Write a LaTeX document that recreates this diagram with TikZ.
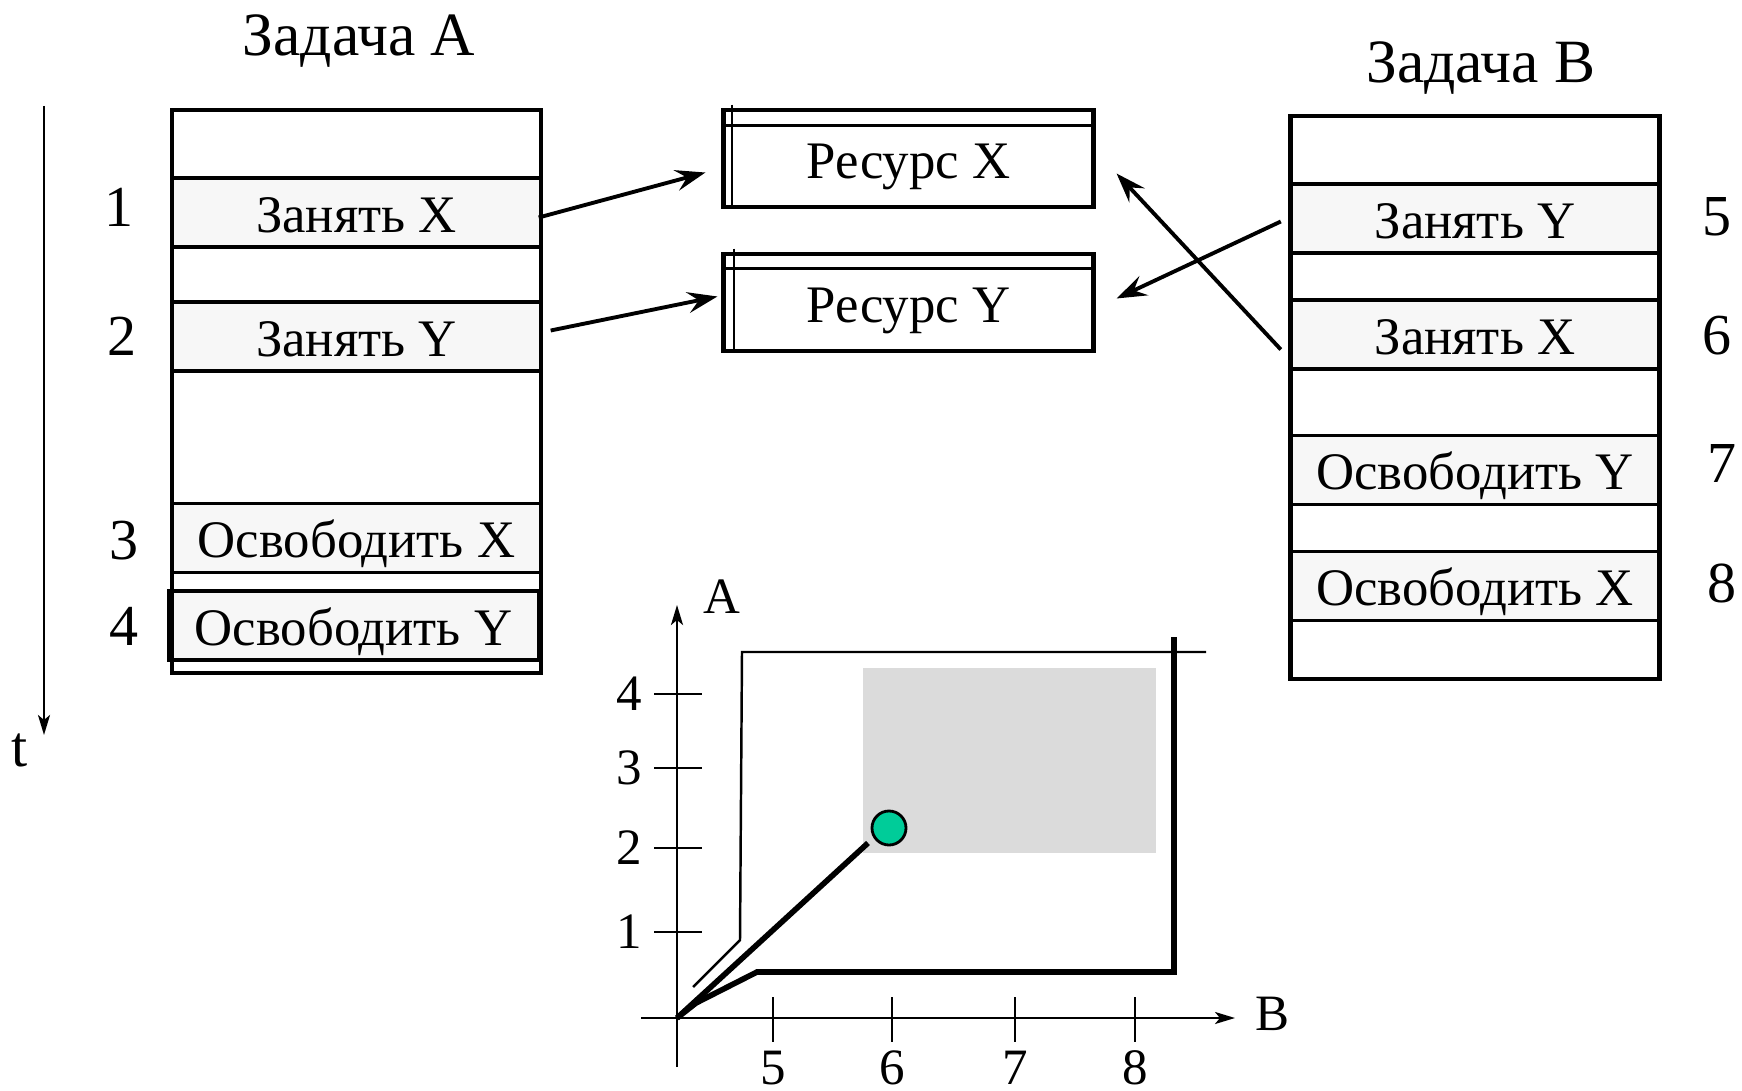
\documentclass[tikz,border=0pt]{standalone}
\usepackage{fontspec}
\setmainfont{Liberation Serif}
\usetikzlibrary{arrows.meta}
\definecolor{dotgreen}{HTML}{00CC99}

\begin{document}
\begin{tikzpicture}[x=0.01cm, y=-0.01cm,
  actbox/.style={draw, line width=0.9pt, fill=black!3, minimum width=3.69cm,
    minimum height=0.69cm, inner sep=0pt, text height=0.48cm, text depth=0.09cm,
    font=\fontsize{15}{18}\selectfont},
  taskbox/.style={draw, line width=1.3pt, minimum width=3.69cm, minimum height=5.63cm},
  resbox/.style={draw, line width=1.4pt, minimum width=3.69cm, minimum height=0.97cm,
    inner sep=0pt, text height=0.48cm, text depth=0.09cm, font=\fontsize{15}{18}\selectfont},
  head/.style={anchor=base, font=\fontsize{17.5}{21}\selectfont},
  num/.style={font=\fontsize{16.5}{20}\selectfont},
  lbl/.style={font=\fontsize{14.5}{17}\selectfont},
  link/.style={-{Stealth[length=0.3cm, width=0.21cm, inset=0.11cm]}, line width=1.1pt},
  axis/.style={-{Stealth[length=0.2cm, width=0.12cm, inset=0.05cm]}, line width=0.7pt}]
\useasboundingbox (0,0) rectangle (1742,1091);

% time axis
\coordinate (ttop) at (44,106);
\coordinate (tbot) at (44,735);
\draw[axis] (ttop) -- (tbot);
\node[num] (tlab) at (20,750) {t};

% task A
\node[head] (headA) at (359,56) {Задача А};
\node[actbox] (a1) at (356.5,212.5) {Занять X};
\node[actbox] (a2) at (356.5,336.5) {Занять Y};
\node[actbox] (a3) at (356.5,538) {Освободить X};
\node[actbox] (a4) at (353.5,625.5) {Освободить Y};
\node[taskbox] (taskA) at (356.5,391.5) {};
\node[num] (n1) at (119,207) {1};
\node[num] (n2) at (122,336) {2};
\node[num] (n3) at (124,541) {3};
\node[num] (n4) at (124,626) {4};

% task B
\node[head] (headB) at (1481,83) {Задача B};
\node[actbox] (b1) at (1475,218.5) {Занять Y};
\node[actbox] (b2) at (1475,334.5) {Занять X};
\node[actbox] (b3) at (1475,470) {Освободить Y};
\node[actbox] (b4) at (1475,586) {Освободить X};
\node[taskbox] (taskB) at (1475,397.5) {};
\node[num] (n5) at (1717,217) {5};
\node[num] (n6) at (1717,336) {6};
\node[num] (n7) at (1722,464) {7};
\node[num] (n8) at (1722,583) {8};

% resources
\node[resbox] (resX) at (908.5,158.5) {Ресурс X};
\draw[line width=0.6pt] ([shift={(0,18)}]resX.north west) -- ([shift={(0,18)}]resX.north east);
\draw[line width=0.6pt] ([shift={(11,-3)}]resX.north west) -- ([shift={(11,0)}]resX.south west);
\node[resbox] (resY) at (908.5,302.5) {Ресурс Y};
\draw[line width=0.6pt] ([shift={(0,17)}]resY.north west) -- ([shift={(0,17)}]resY.north east);
\draw[line width=0.6pt] ([shift={(13,-3)}]resY.north west) -- ([shift={(13,-3)}]resY.south west);

% requests
\draw[link] ([shift={(-4,5)}]a1.east) -- ([shift={(-16,14)}]resX.west);
\draw[link] ([shift={(8,-6)}]a2.east) -- ([shift={(-4,-6)}]resY.west);
\draw[link] ([shift={(-8,3)}]b1.west) -- ([shift={(21,-4)}]resY.east);
\draw[link] ([shift={(-8,15)}]b2.west) -- ([shift={(21,15)}]resX.east);

% progress plane
\fill[black!14] (863,668) rectangle (1156,853);
\coordinate (O) at (677,1018);
\coordinate (xend) at (1235,1018);
\coordinate (yend) at (677,605);
\draw[axis] (641,1018) -- (xend);
\draw[axis] (677,1067) -- (yend);
\node[lbl] (labA) at (722,597) {A};
\node[lbl] (labB) at (1272,1014) {B};

\draw[line width=0.8pt] (654,694) -- (702,694);
\draw[line width=0.8pt] (654,768) -- (702,768);
\draw[line width=0.8pt] (654,848) -- (702,848);
\draw[line width=0.8pt] (654,932) -- (702,932);
\node[lbl] (y4) at (629,694) {4};
\node[lbl] (y3) at (629,768) {3};
\node[lbl] (y2) at (629,848) {2};
\node[lbl] (y1) at (629,932) {1};

\draw[line width=0.8pt] (773,997) -- (773,1042);
\draw[line width=0.8pt] (892,997) -- (892,1042);
\draw[line width=0.8pt] (1015,997) -- (1015,1042);
\draw[line width=0.8pt] (1135,997) -- (1135,1042);
\node[lbl, inner sep=1pt] (x5) at (773,1068) {5};
\node[lbl, inner sep=1pt] (x6) at (892,1068) {6};
\node[lbl, inner sep=1pt] (x7) at (1015,1068) {7};
\node[lbl, inner sep=1pt] (x8) at (1135,1068) {8};

\draw[line width=0.7pt] (693,987) -- (740,940) -- (742,652) -- (1206,652);
\draw[line width=1.6pt] (O) -- (696,1003) -- (757,972) -- (1174,972) -- (1174,637);
\draw[line width=1.6pt] (O) -- (868,843);
\node[draw, circle, fill=dotgreen, line width=0.8pt, minimum size=0.34cm, inner sep=0pt] (now) at (889,828) {};
\end{tikzpicture}
\end{document}
